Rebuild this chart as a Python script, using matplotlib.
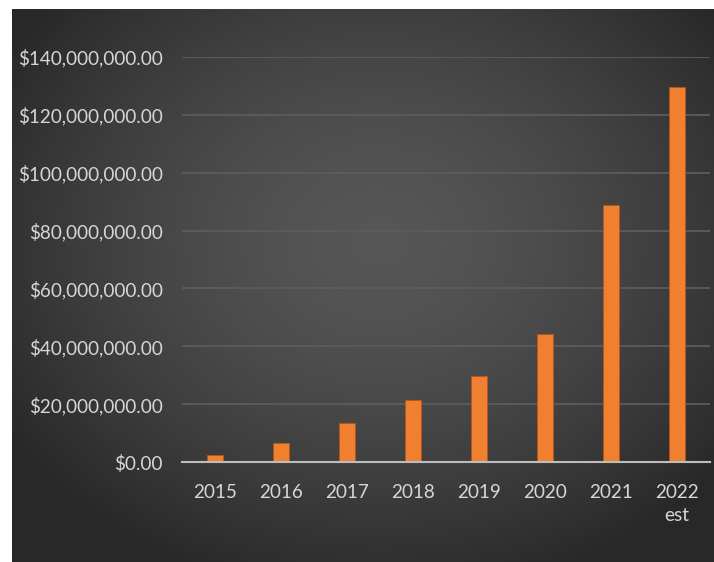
import numpy as np
import matplotlib
matplotlib.use("Agg")
import matplotlib.pyplot as plt
from matplotlib.ticker import FuncFormatter

categories = ["2015", "2016", "2017", "2018", "2019", "2020", "2021", "2022\nest"]
values = [2.4e6, 6.7e6, 13.6e6, 21.4e6, 29.8e6, 44.1e6, 88.8e6, 129.5e6]
yticks = [0, 20e6, 40e6, 60e6, 80e6, 100e6, 120e6, 140e6]

W, H = 714, 562
fig = plt.figure(figsize=(W / 100, H / 100), dpi=100, facecolor="white")

# background panel with radial gradient
bx0, by1 = 12, 9
bg = fig.add_axes([bx0 / W, 0, 1 - bx0 / W, 1 - by1 / H])
ny, nx = 300, 400
yy, xx = np.mgrid[0:ny, 0:nx]
cx, cy = nx * 0.52, ny * 0.42
r = np.sqrt(((xx - cx) / (nx * 0.62)) ** 2 + ((yy - cy) / (ny * 0.65)) ** 2)
r = np.clip(r, 0, 1)
inner, outer = 0.34, 0.16
img = inner + (outer - inner) * r ** 1.5
bg.imshow(np.dstack([img, img, img]), aspect="auto", extent=[0, 1, 0, 1], interpolation="bilinear")
bg.set_axis_off()

# plot axes
left, right, top, bottom = 182, 710, 57, 462
ax = fig.add_axes([left / W, 1 - bottom / H, (right - left) / W, (bottom - top) / H])
ax.patch.set_alpha(0)
x = np.arange(len(categories))
ax.bar(x, values, width=0.23, color="#F0802F", edgecolor="#B5561A", linewidth=0.6, zorder=3)
ax.set_xlim(-0.5, len(categories) - 0.5)
ax.set_ylim(0, 140e6)
ax.set_yticks(yticks)
ax.yaxis.set_major_formatter(FuncFormatter(lambda v, p: "${:,.2f}".format(v)))
ax.set_xticks(x)
ax.set_xticklabels(categories, linespacing=1.4)
ax.grid(axis="y", color="#5c5c5c", linewidth=1.3, zorder=0)
for s in ["top", "right", "left"]:
    ax.spines[s].set_visible(False)
ax.spines["bottom"].set_color("#bdbdbd")
ax.spines["bottom"].set_linewidth(1.5)
ax.spines["bottom"].set_zorder(4)
ax.tick_params(axis="both", length=0, colors="#d6d6d6", labelsize=13.6)
ax.tick_params(axis="x", pad=16)
ax.tick_params(axis="y", pad=14)
for lab in ax.get_xticklabels() + ax.get_yticklabels():
    lab.set_family(["Lato", "DejaVu Sans"])
for lab in ax.get_xticklabels():
    lab.set_verticalalignment("top")

fig.savefig("out.png", dpi=100, facecolor="white")
